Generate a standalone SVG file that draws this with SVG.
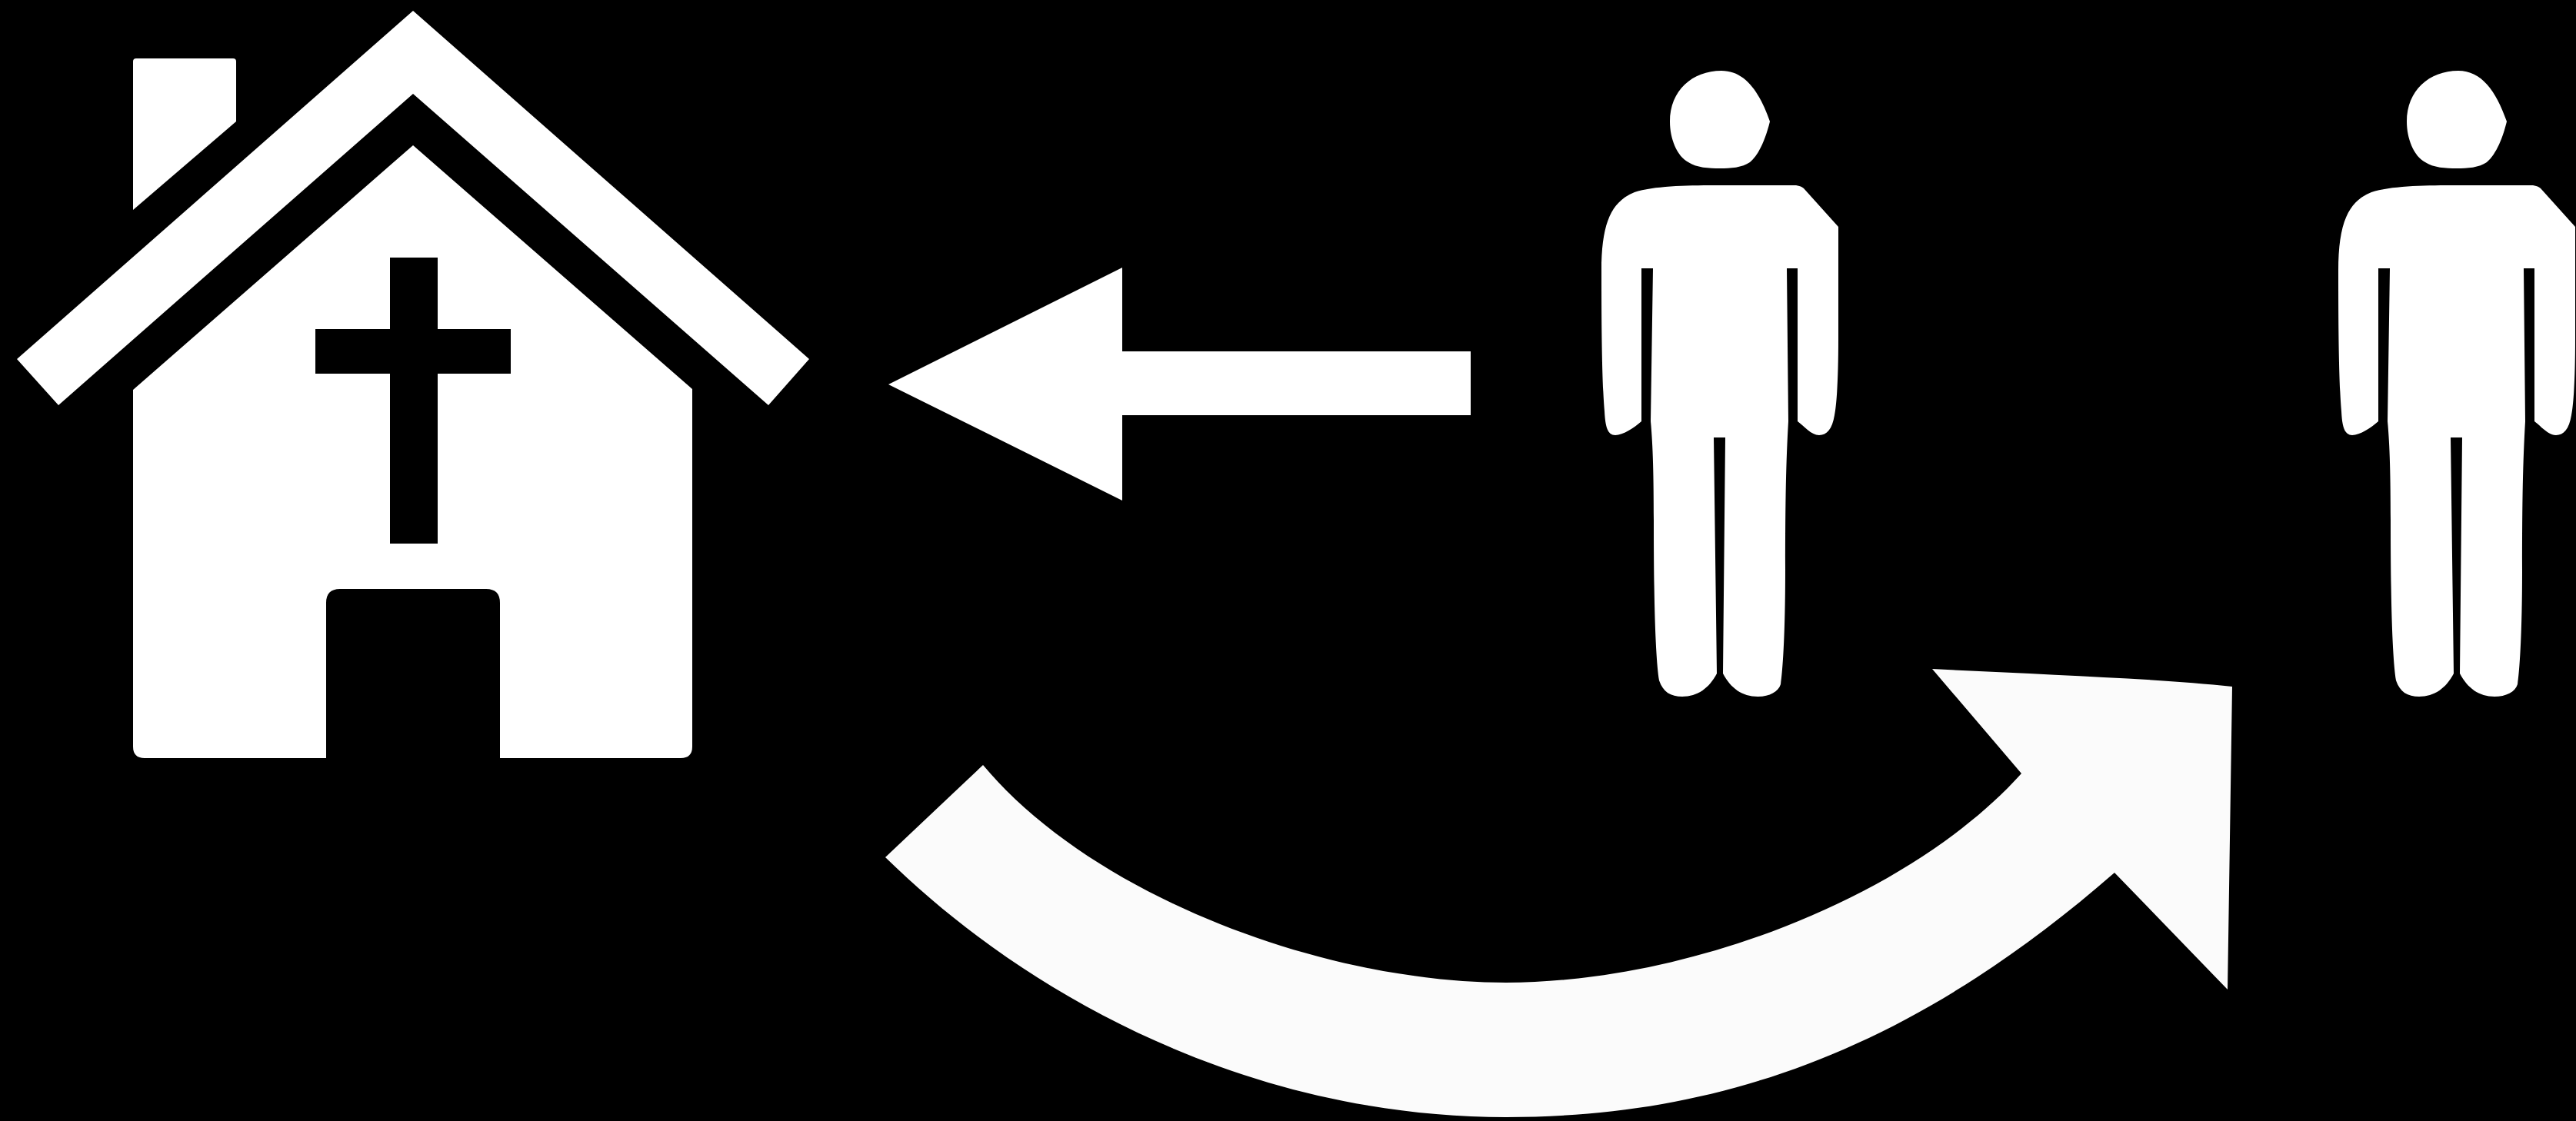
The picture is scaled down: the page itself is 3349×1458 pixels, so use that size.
<svg xmlns="http://www.w3.org/2000/svg" width="3349" height="1458" viewBox="0 0 3349 1458">
<style>
.w{fill:#fff}
.c{fill:#fbfbfb}
</style>
<defs>
<g id="person">
<path d="M2171 158C2171 118 2200 92 2238 92C2268 92 2287 118 2301 158C2296 178 2288 200 2275 211C2265 218 2250 219 2236 219C2222 219 2205 218 2195 211C2180 203 2171 180 2171 158Z"/>
<path d="M2082 352C2082 290 2095 262 2125 250C2150 242 2190 241 2230 241L2335 241Q2342 242 2345 245L2390 295L2390 440C2390 490 2388 525 2385 540C2382 558 2375 566 2365 566C2355 566 2345 554 2337 548L2337 349L2323 349L2325 548C2322 600 2321 650 2321 740C2321 820 2318 870 2315 890C2312 900 2300 906 2285 906C2265 906 2250 895 2240 876L2243 569L2228 569L2232 876C2222 895 2207 906 2187 906C2172 906 2162 900 2157 885C2153 860 2150 800 2150 677C2150 620 2149 580 2146 548L2149 349L2134 349L2134 548C2125 556 2110 566 2100 566C2090 566 2087 555 2086 535C2083 500 2082 440 2082 352Z"/>
</g>
</defs>
<rect width="3349" height="1458" fill="#000"/>
<g id="church" class="w">
<path d="M177 76H303Q307 76 307 80V158L173 273V80Q173 76 177 76Z"/>
<path d="M537 14L1052 467L999 527L537 122L76 527L22 467Z"/>
<path fill-rule="evenodd" d="M537 189L900 506V971Q900 986 885 986H650V784Q650 766 632 766H442Q424 766 424 784V986H188Q173 986 173 971V507ZM507 335H569V428H664V486H569V707H507V486H410V428H507Z"/>
</g>
<g id="person-1" class="w"><use href="#person"/></g>
<g id="person-2" class="w"><use href="#person" x="958"/></g>
<g id="connectors">
<path class="w" d="M1155 500L1459 348V457H1912V540H1459V651Z"/>
<path class="c" d="M1278 995C1420 1165 1720 1278 1958 1278C2190 1278 2480 1170 2628 1006L2512 870C2650 877 2800 882 2902 893L2896 1287L2749 1135C2480 1370 2230 1453 1958 1453C1640 1453 1350 1310 1151 1115Z"/>
</g>
</svg>
